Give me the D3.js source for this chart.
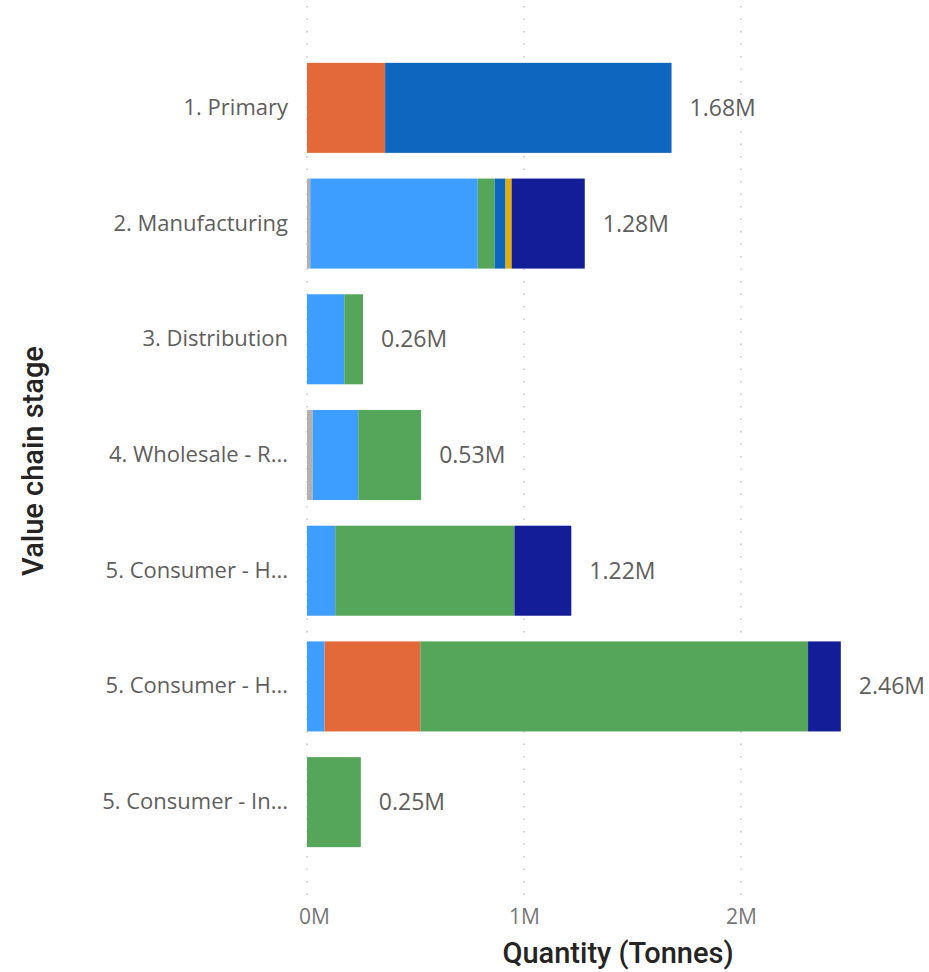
<!DOCTYPE html>
<html>
<head>
<meta charset="utf-8">
<script src="https://cdn.jsdelivr.net/npm/d3@7"></script>
<style>
  html, body { margin: 0; padding: 0; background: #ffffff; }
  svg { display: block; }
</style>
</head>
<body>
<svg id="chart" width="929" height="972"></svg>
<script>
// Value chain stages (y categories)
const stages = [
  "1. Primary",
  "2. Manufacturing",
  "3. Distribution",
  "4. Wholesale - R...",
  "5. Consumer - H...",
  "5. Consumer - H... ",
  "5. Consumer - In..."
];

// Stack series, in stacking order, with their colours
const seriesKeys = ["grey", "lightBlue", "orange", "green", "blue", "yellow", "navy"];
const seriesColors = ["#B3B0AD", "#3E9EFF", "#E4693A", "#55A65A", "#0F66BE", "#E3AE0A", "#131D98"];

// Quantities in million tonnes, one array per series (same order as stages)
const grey      = [0,    0.015, 0,     0.026, 0,     0,     0];
const lightBlue = [0,    0.772, 0.172, 0.210, 0.130, 0.081, 0];
const orange    = [0.36, 0,     0,     0,     0,     0.441, 0];
const green     = [0,    0.078, 0.086, 0.290, 0.826, 1.787, 0.248];
const blue      = [1.32, 0.050, 0,     0,     0,     0,     0];
const yellow    = [0,    0.028, 0,     0,     0,     0,     0];
const navy      = [0,    0.337, 0,     0,     0.262, 0.151, 0];

// X axis ticks (million tonnes)
const xTicks = [0, 1, 2];
const xTickLabels = ["0M", "1M", "2M"];

const seriesValues = { grey, lightBlue, orange, green, blue, yellow, navy };
const rows = stages.map((s, i) => {
  const r = { stage: s };
  seriesKeys.forEach(k => { r[k] = seriesValues[k][i]; });
  r.total = seriesKeys.reduce((a, k) => a + r[k], 0);
  return r;
});

const svg = d3.select("#chart");
const x = d3.scaleLinear().domain([0, 1]).range([307, 524]);
const y = d3.scaleBand().domain(stages).range([50, 860]).paddingInner(0.222).paddingOuter(0.111);

const color = d3.scaleOrdinal().domain(seriesKeys).range(seriesColors);
const labelFont = "'Open Sans', 'Noto Sans', sans-serif";
const titleFont = "Roboto, 'DejaVu Sans', sans-serif";

// Dotted vertical gridlines
svg.append("g")
  .selectAll("line")
  .data(xTicks)
  .join("line")
  .attr("x1", d => x(d)).attr("x2", d => x(d))
  .attr("y1", 6).attr("y2", 900)
  .attr("stroke", "#C8C8C8")
  .attr("stroke-width", 1.5)
  .attr("stroke-dasharray", "1.5,11");

// Stacked bars
const stack = d3.stack().keys(seriesKeys);
const layers = stack(rows);
svg.append("g")
  .selectAll("g")
  .data(layers)
  .join("g")
  .attr("fill", d => color(d.key))
  .selectAll("rect")
  .data(d => d.filter(p => p[1] - p[0] > 0))
  .join("rect")
  .attr("x", d => x(d[0]))
  .attr("width", d => x(d[1]) - x(d[0]))
  .attr("y", d => y(d.data.stage))
  .attr("height", y.bandwidth());

// Total labels
const fmt = d3.format(".2f");
svg.append("g")
  .selectAll("text")
  .data(rows)
  .join("text")
  .attr("x", d => x(d.total) + 18)
  .attr("y", d => y(d.stage) + y.bandwidth() / 2)
  .attr("dy", "0.35em")
  .attr("font-family", labelFont)
  .attr("font-size", 23)
  .attr("fill", "#605E5C")
  .text(d => fmt(d.total) + "M");

// Y axis (category labels)
const yAxis = d3.axisLeft(y).tickSize(0).tickPadding(19);
const gy = svg.append("g").attr("transform", "translate(307,0)").call(yAxis);
gy.select(".domain").remove();
gy.selectAll("text")
  .attr("font-family", labelFont)
  .attr("font-size", 22)
  .attr("fill", "#605E5C");

// X axis (tick labels); the first label is kept inside the plot edge
const xAxis = d3.axisBottom(x).tickValues(xTicks).tickFormat((d, i) => xTickLabels[i]).tickSize(0).tickPadding(0);
const gx = svg.append("g").attr("transform", "translate(0,909)").call(xAxis);
gx.select(".domain").remove();
gx.selectAll("text")
  .attr("font-family", labelFont)
  .attr("font-size", 21)
  .attr("fill", "#777777")
  .attr("dy", "0.71em")
  .attr("dx", d => d === 0 ? 7 : 0);

// Axis titles
svg.append("text")
  .attr("x", 618).attr("y", 963)
  .attr("text-anchor", "middle")
  .attr("font-family", titleFont)
  .attr("font-weight", 500)
  .attr("font-size", 29)
  .attr("fill", "#252423")
  .text("Quantity (Tonnes)");

svg.append("text")
  .attr("transform", "translate(43,461) rotate(-90)")
  .attr("text-anchor", "middle")
  .attr("font-family", titleFont)
  .attr("font-weight", 500)
  .attr("font-size", 29)
  .attr("fill", "#252423")
  .text("Value chain stage");
</script>
</body>
</html>
